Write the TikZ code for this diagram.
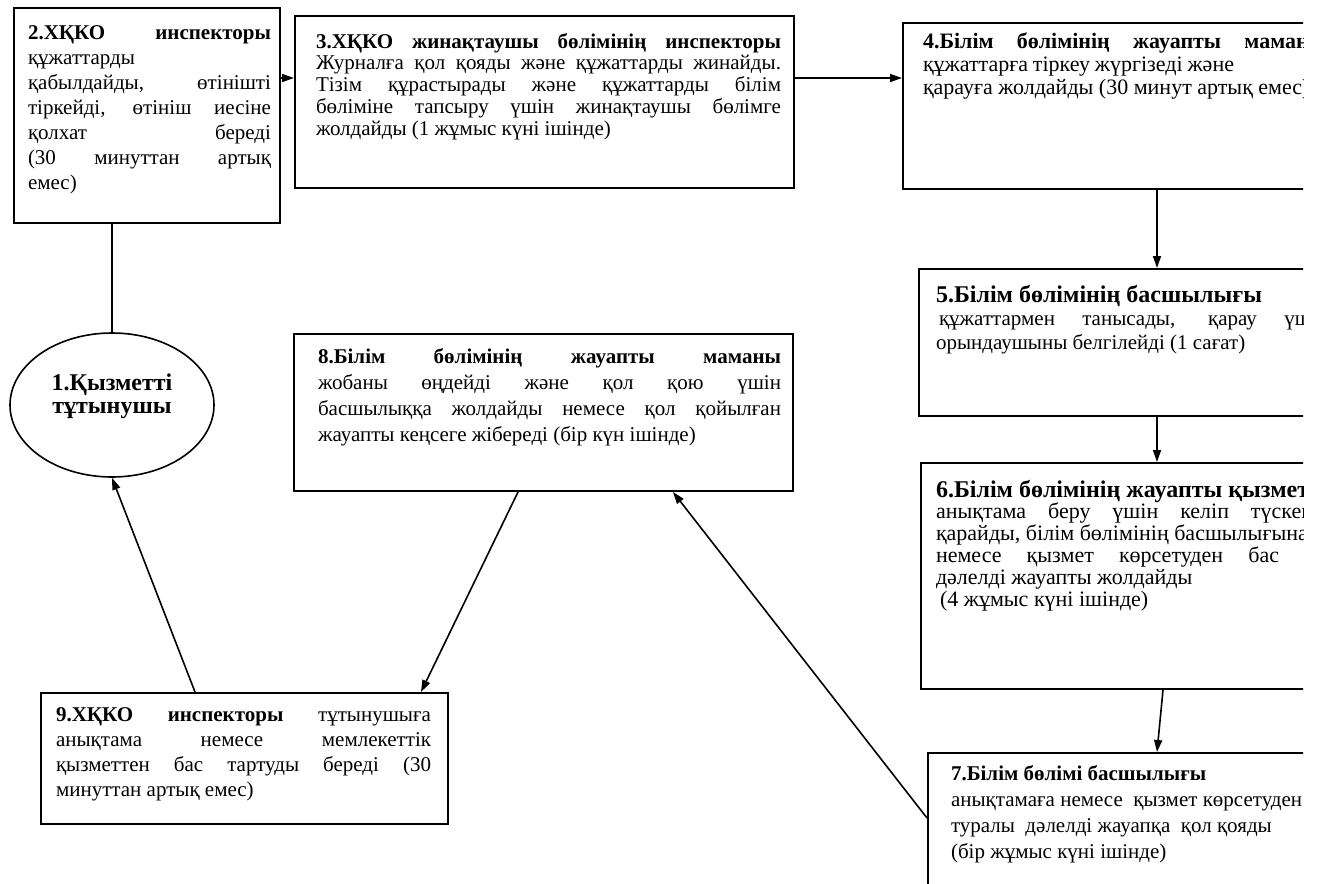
\documentclass[tikz,border=0pt]{standalone}
\usepackage{fontspec}
\setmainfont{Liberation Serif}
\usetikzlibrary{arrows.meta, shapes.geometric}

% box text: width, height, left skip, right skip, first baseline, text
\newcommand{\stagetext}[6]{%
  \parbox[t][#2][t]{#1}{\leftskip=#3\rightskip=#4%
    \vspace*{\dimexpr#5-8pt\relax}\rule{0pt}{8pt}#6}}

\tikzset{
  stage/.style={draw, line width=1pt, anchor=north west, inner sep=0pt,
    font=\fontsize{10.5}{10.9}\selectfont},
  client/.style={ellipse, draw, line width=0.8pt, inner sep=0pt, align=center,
    minimum width=102pt, minimum height=72pt,
    font=\bfseries\fontsize{12}{11.5}\selectfont},
  flow/.style={line width=0.8pt, -{Triangle[length=6pt,width=4pt]}},
}

\begin{document}
\begin{tikzpicture}[x=0.5pt, y=-0.5pt]
\useasboundingbox (0,0) rectangle (1318,884);
\begin{scope}
\clip (0,0) rectangle (1303,884);
% Coordinates
\coordinate (r1) at (0,78);
\coordinate (k1) at (1157,0);
\coordinate (k2) at (1163,0);
\coordinate (k3) at (0,818);
\coordinate (k4) at (673,0);
\coordinate (k5) at (518,0);
\coordinate (k6) at (421,0);
\coordinate (k7) at (195,0);
% Client
\node[client] (c1) at (112,405) {1.Қызметті\\тұтынушы\\ \mbox{}};
% Boxes
\node[stage] (s2) at (13,7) {\stagetext{133pt}{107.5pt}{7pt}{4.5pt}{15.5pt}{%
  \fontsize{10.5}{12.5}\selectfont
  \textbf{2.ХҚКО инспекторы}\linebreak
  құжаттарды\\
  қабылдайды, өтінішті\linebreak
  тіркейді, өтініш иесіне\linebreak
  қолхат береді\linebreak
  (30 минуттан артық\linebreak
  емес)}};
\node[stage] (s3) at (294,15) {\stagetext{249.5pt}{86pt}{10.5pt}{6.5pt}{16pt}{%
  \textbf{3.ХҚКО жинақтаушы бөлімінің инспекторы}\linebreak
  Журналға қол қояды және құжаттарды жинайды.\linebreak
  Тізім құрастырады және құжаттарды білім\linebreak
  бөліміне тапсыру үшін жинақтаушы бөлімге\linebreak
  жолдайды (1 жұмыс күні ішінде)}};
\node[stage] (s4) at (902,22) {\stagetext{259pt}{83pt}{10pt}{47.5pt}{12.5pt}{%
  \fontsize{11}{11.5}\selectfont
  \textbf{4.Білім бөлімінің жауапты маманы}\linebreak
  \makebox[155.5pt][s]{құжаттарға тіркеу жүргізеді және}\\
  қарауға жолдайды (30 минут артық емес)}};
\node[stage] (s5) at (918,268) {\stagetext{251pt}{73.5pt}{8.5pt}{0pt}{16pt}{%
  \fontsize{10.5}{11.75}\selectfont
  {\fontsize{12}{11.75}\selectfont\textbf{5.Білім бөлімінің басшылығы}}\\
  \hspace*{1.5pt}\makebox[194.5pt][s]{құжаттармен танысады, қарау үшін}\\
  орындаушыны белгілейді (1 сағат)}};
\node[stage] (s6) at (920,462) {\stagetext{250pt}{113pt}{7.5pt}{0pt}{16.5pt}{%
  \fontsize{11}{10.9}\selectfont
  {\fontsize{12}{10.9}\selectfont\textbf{6.Білім бөлімінің жауапты қызметкері}}\\
  \makebox[188.5pt][s]{анықтама беру үшін келіп түскен}\\
  қарайды, білім бөлімінің басшылығына\\
  \makebox[171.5pt][s]{немесе қызмет көрсетуден бас}\\
  дәлелді жауапты жолдайды\\
  \hspace*{2pt}(4 жұмыс күні ішінде)}};
\node[stage] (s7) at (927,752) {\stagetext{246.5pt}{74pt}{11.5pt}{0pt}{13.5pt}{%
  \fontsize{10.5}{13}\selectfont
  \textbf{7.Білім бөлімі басшылығы}\\
  анықтамаға немесе\ \ қызмет көрсетуден\\
  туралы\ \ дәлелді жауапқа\ \ қол қояды\\
  (бір жұмыс күні ішінде)}};
\node[stage] (s8) at (293,333) {\stagetext{249.5pt}{78.5pt}{12pt}{6pt}{14.5pt}{%
  \fontsize{10.5}{13}\selectfont
  \textbf{8.Білім бөлімінің жауапты маманы}\linebreak
  жобаны өңдейді және қол қою үшін\linebreak
  басшылыққа жолдайды немесе қол қойылған\linebreak
  жауапты кеңсеге жібереді (бір күн ішінде)}};
\node[stage] (s9) at (40,692) {\stagetext{203.5pt}{65.5pt}{7.5pt}{8.5pt}{14pt}{%
  \fontsize{10.5}{12.5}\selectfont
  \textbf{9.ХҚКО инспекторы} тұтынушыға\linebreak
  анықтама немесе мемлекеттік\linebreak
  қызметтен бас тартуды береді (30\linebreak
  минуттан артық емес)}};
% Connectors
\draw[line width=0.8pt] (c1.north) -- (c1.north |- s2.south);
\draw[flow] (s2.east |- r1) -- (s3.west |- r1);
\draw[flow] (s3.east |- r1) -- (s4.west |- r1);
\draw[flow] (s4.south -| k1) -- (s5.north -| k1);
\draw[flow] (s5.south -| k1) -- (s6.north -| k1);
\draw[flow] (s6.south -| k2) -- (s7.north -| k1);
\draw[flow] (s7.west |- k3) -- (s8.south -| k4);
\draw[flow] (s8.south -| k5) -- (s9.north -| k6);
\draw[flow] (s9.north -| k7) -- (c1.south);
\end{scope}
\end{tikzpicture}
\end{document}
